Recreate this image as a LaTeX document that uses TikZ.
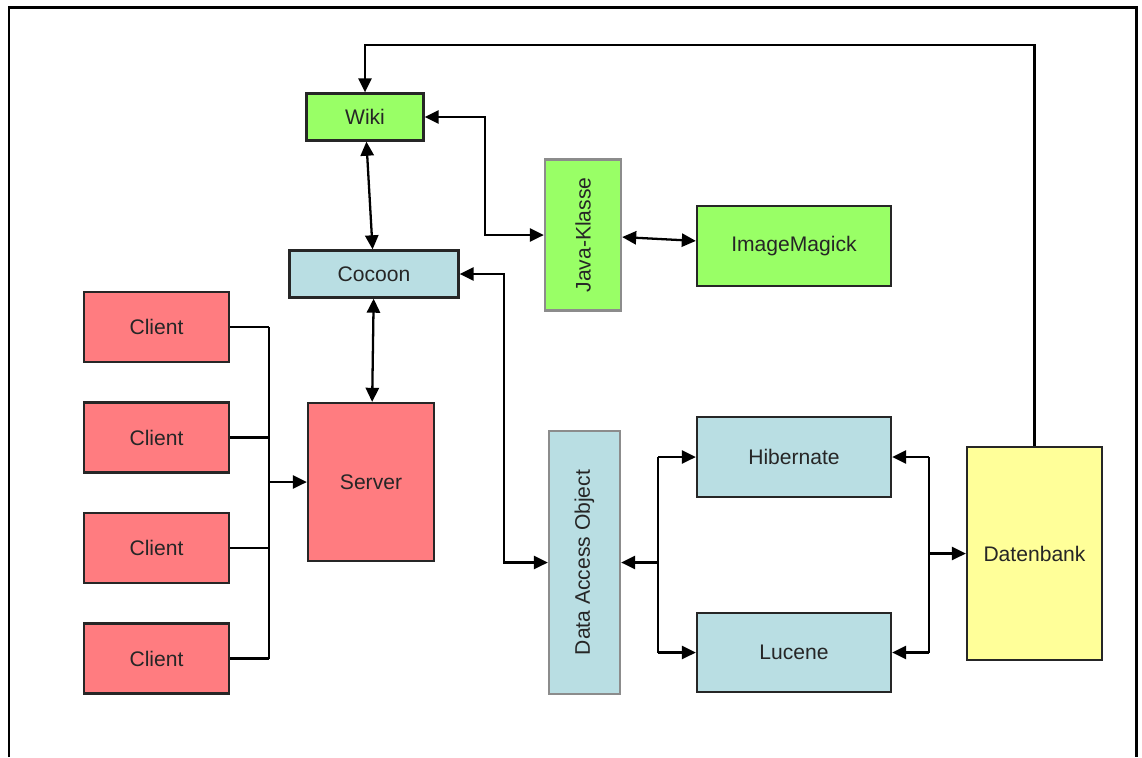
\documentclass[tikz,border=0pt]{standalone}
\usepackage{fontspec}
\setmainfont{Liberation Sans}
\usepackage{graphicx}
\usepackage{tikz}
\usetikzlibrary{arrows.meta,positioning,calc}
\definecolor{wikigreen}{RGB}{153,255,102}
\definecolor{cocoonblue}{RGB}{185,222,227}
\definecolor{clientred}{RGB}{255,124,128}
\definecolor{dbyellow}{RGB}{255,255,153}
\tikzstyle{box} = [rectangle, draw=black!85, line width=1.3pt, inner sep=0pt,
    font=\fontsize{12}{14}\selectfont, text=black!85]
\tikzstyle{greenbox} = [box, fill=wikigreen]
\tikzstyle{bluebox} = [box, fill=cocoonblue]
\tikzstyle{redbox} = [box, fill=clientred, minimum width=2.9cm, minimum height=1.4cm]
\tikzstyle{line} = [draw, line width=1.3pt, -{Triangle[length=8pt,width=7.5pt]}]
\tikzstyle{both} = [line, {Triangle[length=8pt,width=7.5pt]}-{Triangle[length=8pt,width=7.5pt]}]
\tikzstyle{wire} = [draw, line width=1.3pt]

\begin{document}
\begin{tikzpicture}[node distance=1cm,auto]
    \useasboundingbox (0,0) rectangle (22.84,-15.14);
    \draw[line width=1.7pt] (0.18,-15.14) |- (22.72,-0.15) -- (22.72,-15.14);

    \node [greenbox,minimum width=2.34cm,minimum height=0.94cm] (wiki) at (7.30,-2.34) {Wiki};
    \node [bluebox,minimum width=3.38cm,minimum height=0.94cm] (cocoon) at (7.48,-5.48) {Cocoon};
    \node [greenbox,draw=black!45,minimum width=1.52cm,minimum height=3.02cm] (java) at (11.66,-4.70) {\rotatebox{90}{Java-Klasse}};
    \node [greenbox,minimum width=3.88cm,minimum height=1.6cm,node distance=4.22cm,right of=java,yshift=-0.22cm] (magick) {ImageMagick};

    \node [redbox] (c1) at (3.13,-6.54) {Client};
    \node [redbox,node distance=2.21cm,below of=c1] (c2) {Client};
    \node [redbox,node distance=2.21cm,below of=c2] (c3) {Client};
    \node [redbox,node distance=2.21cm,below of=c3] (c4) {Client};
    \node [box,fill=clientred,minimum width=2.52cm,minimum height=3.16cm] (server) at (7.42,-9.64) {Server};

    \node [bluebox,draw=black!45,minimum width=1.42cm,minimum height=5.26cm] (dao) at (11.69,-11.25) {\rotatebox{90}{Data Access Object}};
    \node [bluebox,minimum width=3.88cm,minimum height=1.6cm] (hib) at (15.88,-9.14) {Hibernate};
    \node [bluebox,minimum width=3.88cm,minimum height=1.58cm,node distance=3.91cm,below of=hib] (luc) {Lucene};
    \node [box,fill=dbyellow,minimum width=2.7cm,minimum height=4.26cm] (db) at (20.69,-11.07) {Datenbank};

    % Draw edges
    \path [both] (wiki) -- (cocoon);
    \path [both] (cocoon) -- (server);
    \path [both] (java) -- (magick);
    \path [line] (db.north) --++ (0,8.02) -| (wiki.north);
    \path [both] (wiki.east) --++ (1.2,0) |- (java);
    \path [both] (cocoon.east) --++ (0.88,0) |- (dao);

    % clients to server
    \path [wire] (c1.east) --++ (0.78,0) coordinate (bt);
    \path [wire] (c2.east) -- (c2.east -| bt);
    \path [wire] (c3.east) -- (c3.east -| bt);
    \path [wire] (c4.east) --++ (0.78,0) coordinate (bb);
    \path [wire] (bt) -- (bb);
    \path [line] (bt |- server) -- (server);

    % dao to hibernate and lucene
    \coordinate (lb) at ($(dao.east)+(0.74,0)$);
    \path [line] (lb) -- (dao.east);
    \path [wire] (lb |- hib) -- (lb |- luc);
    \path [line] (lb |- hib) -- (hib);
    \path [line] (lb |- luc) -- (luc);

    % datenbank side
    \coordinate (rb) at ($(hib.east)+(0.74,0)$);
    \path [wire] (rb) -- (rb |- luc);
    \path [line] (rb) -- (hib.east);
    \path [line] (rb |- luc) -- (luc.east);
    \path [line] (rb |- db) -- (db);

\end{tikzpicture}
\end{document}
